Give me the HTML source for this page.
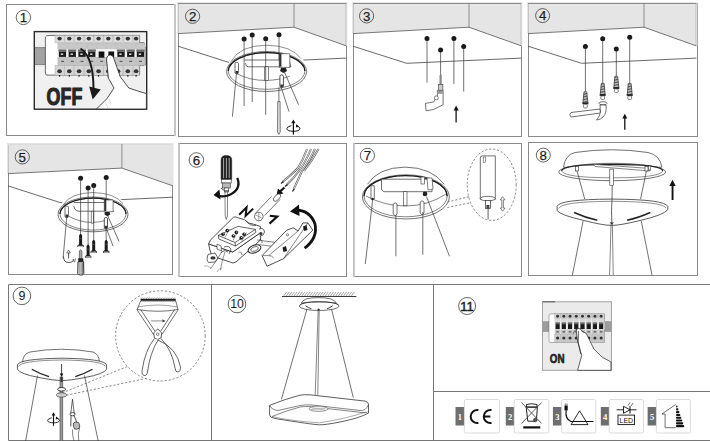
<!DOCTYPE html>
<html><head><meta charset="utf-8">
<style>
html,body{margin:0;padding:0;background:#fff;}
body{width:710px;height:441px;overflow:hidden;position:relative;}
svg{position:absolute;left:0;top:0;}
text{font-family:"Liberation Sans",sans-serif;}
</style></head><body>
<svg width="710" height="441" viewBox="0 0 710 441">

<rect x="6.5" y="4.5" width="168" height="131" fill="#fff" stroke="#8a8a8a" stroke-width="1"/>
<rect x="178.5" y="3.5" width="168" height="133" fill="none" stroke="#8a8a8a" stroke-width="1"/>
<g transform="translate(178.0,3)">
    <polygon points="-1,-1 169.4,-1 169.4,43.3 116,24.2 -1,30.6" fill="#e5e5e5"/>
    <line x1="0" y1="0.5" x2="168.4" y2="0.5" stroke="#8c8c8c" stroke-width="1"/>
    <line x1="0.5" y1="1" x2="0.5" y2="30.5" stroke="#c4c4c4" stroke-width="1"/>
    <line x1="167.9" y1="1" x2="167.9" y2="42.6" stroke="#c4c4c4" stroke-width="1"/>
    <polyline points="0,30.6 116,24.2 168.4,42.9" fill="none" stroke="#555" stroke-width="0.8"/>
    <line x1="116" y1="0" x2="116" y2="24.2" stroke="#777" stroke-width="0.8"/>
    <polyline points="0,43.2 53.6,60.3 168.4,55.1" fill="none" stroke="#444" stroke-width="0.8"/>
  </g>
<rect x="353.5" y="3.5" width="168" height="133" fill="none" stroke="#8a8a8a" stroke-width="1"/>
<g transform="translate(353.0,3)">
    <polygon points="-1,-1 169.4,-1 169.4,43.3 116,24.2 -1,30.6" fill="#e5e5e5"/>
    <line x1="0" y1="0.5" x2="168.4" y2="0.5" stroke="#8c8c8c" stroke-width="1"/>
    <line x1="0.5" y1="1" x2="0.5" y2="30.5" stroke="#c4c4c4" stroke-width="1"/>
    <line x1="167.9" y1="1" x2="167.9" y2="42.6" stroke="#c4c4c4" stroke-width="1"/>
    <polyline points="0,30.6 116,24.2 168.4,42.9" fill="none" stroke="#555" stroke-width="0.8"/>
    <line x1="116" y1="0" x2="116" y2="24.2" stroke="#777" stroke-width="0.8"/>
    <polyline points="0,43.2 53.6,60.3 168.4,55.1" fill="none" stroke="#444" stroke-width="0.8"/>
  </g>
<rect x="528.5" y="3.5" width="169" height="133" fill="none" stroke="#8a8a8a" stroke-width="1"/>
<g transform="translate(528.0,3)">
    <polygon points="-1,-1 169.4,-1 169.4,43.3 116,24.2 -1,30.6" fill="#e5e5e5"/>
    <line x1="0" y1="0.5" x2="168.4" y2="0.5" stroke="#8c8c8c" stroke-width="1"/>
    <line x1="0.5" y1="1" x2="0.5" y2="30.5" stroke="#c4c4c4" stroke-width="1"/>
    <line x1="167.9" y1="1" x2="167.9" y2="42.6" stroke="#c4c4c4" stroke-width="1"/>
    <polyline points="0,30.6 116,24.2 168.4,42.9" fill="none" stroke="#555" stroke-width="0.8"/>
    <line x1="116" y1="0" x2="116" y2="24.2" stroke="#777" stroke-width="0.8"/>
    <polyline points="0,43.2 53.6,60.3 168.4,55.1" fill="none" stroke="#444" stroke-width="0.8"/>
  </g>
<rect x="8.5" y="144.5" width="164" height="130" fill="none" stroke="#8a8a8a" stroke-width="1"/>
<g transform="translate(8,144)">
    <polygon points="-1,-1 165.6,-1 165.6,42.1 113.9,24.1 -1,29.6" fill="#e5e5e5"/>
    <line x1="0" y1="0.5" x2="164.6" y2="0.5" stroke="#dcdcdc" stroke-width="1"/>
    <line x1="0.5" y1="1" x2="0.5" y2="29.5" stroke="#c4c4c4" stroke-width="1"/>
    <polyline points="0,29.6 113.9,24.1 165,41.9" fill="none" stroke="#555" stroke-width="0.8"/>
    <line x1="113.9" y1="0" x2="113.9" y2="24.1" stroke="#777" stroke-width="0.8"/>
    <polyline points="0,41.9 52,58.5 165,53.2" fill="none" stroke="#444" stroke-width="0.8"/>
  </g>
<rect x="178.5" y="143.5" width="168" height="133" fill="none" stroke="#8a8a8a" stroke-width="1"/>
<rect x="353.5" y="143.5" width="168" height="133" fill="none" stroke="#8a8a8a" stroke-width="1"/>
<rect x="528.5" y="142.5" width="169" height="133" fill="none" stroke="#8a8a8a" stroke-width="1"/>
<polyline points="710,284.5 8.5,284.5 8.5,440.5 710,440.5" fill="none" stroke="#767676" stroke-width="1"/>
<line x1="211.5" y1="284.5" x2="211.5" y2="440.5" stroke="#767676" stroke-width="1"/>
<line x1="433.5" y1="284.5" x2="433.5" y2="440.5" stroke="#767676" stroke-width="1"/>
<line x1="433.5" y1="391.5" x2="710" y2="391.5" stroke="#767676" stroke-width="1"/>
<line x1="174.6" y1="4" x2="174.6" y2="136" stroke="#fff" stroke-width="1.2"/><line x1="175" y1="4" x2="175" y2="136" stroke="#b8b8b8" stroke-width="1.6"/>
<line x1="178.5" y1="143" x2="178.5" y2="277" stroke="#fff" stroke-width="1.2"/><line x1="179" y1="143" x2="179" y2="277" stroke="#b8b8b8" stroke-width="1.6"/>
<line x1="353.5" y1="143" x2="353.5" y2="277" stroke="#fff" stroke-width="1.2"/><line x1="353.9" y1="143" x2="353.9" y2="277" stroke="#b8b8b8" stroke-width="1.6"/>
<rect x="34.3" y="31.6" width="112.4" height="77.6" fill="#f0f0f0" stroke="#2a2a2a" stroke-width="1.4"/>
<rect x="35" y="47.3" width="111" height="17.6" fill="#a3a3a3"/>
<line x1="35" y1="47.6" x2="146" y2="47.6" stroke="#7a7a7a" stroke-width="0.8"/>
<line x1="35" y1="64.6" x2="146" y2="64.6" stroke="#7a7a7a" stroke-width="0.8"/>
<path d="M45.4,37 Q45.6,35.4 50,35.4 L139.6,35.4 L139.6,42.7 L144.1,42.7 L144.1,65.4 L139.6,65.4 L139.6,75 L47,75.1 Q45.4,75 45.4,73 Z" fill="#fff" stroke="#333" stroke-width="0.7"/>
<rect x="55.00" y="35.4" width="9.15" height="7.2" fill="#dcdcdc" stroke="#a0a0a0" stroke-width="0.4"/>
<ellipse cx="59.58" cy="38.6" rx="2.2" ry="1.9" fill="#333"/>
<rect x="55.00" y="65.4" width="9.15" height="9.8" fill="#d6d6d6" stroke="#a0a0a0" stroke-width="0.4"/>
<ellipse cx="59.58" cy="71.3" rx="2.3" ry="2" fill="#333"/>
<circle cx="59.58" cy="75.9" r="0.8" fill="#222"/>
<rect x="64.75" y="35.4" width="9.15" height="7.2" fill="#dcdcdc" stroke="#a0a0a0" stroke-width="0.4"/>
<ellipse cx="69.33" cy="38.6" rx="2.2" ry="1.9" fill="#333"/>
<rect x="64.75" y="65.4" width="9.15" height="9.8" fill="#d6d6d6" stroke="#a0a0a0" stroke-width="0.4"/>
<ellipse cx="69.33" cy="71.3" rx="2.3" ry="2" fill="#333"/>
<circle cx="69.33" cy="75.9" r="0.8" fill="#222"/>
<rect x="74.50" y="35.4" width="9.15" height="7.2" fill="#dcdcdc" stroke="#a0a0a0" stroke-width="0.4"/>
<ellipse cx="79.08" cy="38.6" rx="2.2" ry="1.9" fill="#333"/>
<rect x="74.50" y="65.4" width="9.15" height="9.8" fill="#d6d6d6" stroke="#a0a0a0" stroke-width="0.4"/>
<ellipse cx="79.08" cy="71.3" rx="2.3" ry="2" fill="#333"/>
<circle cx="79.08" cy="75.9" r="0.8" fill="#222"/>
<rect x="84.25" y="35.4" width="9.15" height="7.2" fill="#dcdcdc" stroke="#a0a0a0" stroke-width="0.4"/>
<ellipse cx="88.83" cy="38.6" rx="2.2" ry="1.9" fill="#333"/>
<rect x="84.25" y="65.4" width="9.15" height="9.8" fill="#d6d6d6" stroke="#a0a0a0" stroke-width="0.4"/>
<ellipse cx="88.83" cy="71.3" rx="2.3" ry="2" fill="#333"/>
<circle cx="88.83" cy="75.9" r="0.8" fill="#222"/>
<rect x="94.00" y="35.4" width="9.15" height="7.2" fill="#dcdcdc" stroke="#a0a0a0" stroke-width="0.4"/>
<ellipse cx="98.58" cy="38.6" rx="2.2" ry="1.9" fill="#333"/>
<rect x="94.00" y="65.4" width="9.15" height="9.8" fill="#d6d6d6" stroke="#a0a0a0" stroke-width="0.4"/>
<ellipse cx="98.58" cy="71.3" rx="2.3" ry="2" fill="#333"/>
<circle cx="98.58" cy="75.9" r="0.8" fill="#222"/>
<rect x="103.75" y="35.4" width="9.15" height="7.2" fill="#dcdcdc" stroke="#a0a0a0" stroke-width="0.4"/>
<ellipse cx="108.33" cy="38.6" rx="2.2" ry="1.9" fill="#333"/>
<rect x="103.75" y="65.4" width="9.15" height="9.8" fill="#d6d6d6" stroke="#a0a0a0" stroke-width="0.4"/>
<ellipse cx="108.33" cy="71.3" rx="2.3" ry="2" fill="#333"/>
<circle cx="108.33" cy="75.9" r="0.8" fill="#222"/>
<rect x="113.50" y="35.4" width="9.15" height="7.2" fill="#dcdcdc" stroke="#a0a0a0" stroke-width="0.4"/>
<ellipse cx="118.08" cy="38.6" rx="2.2" ry="1.9" fill="#333"/>
<rect x="113.50" y="65.4" width="9.15" height="9.8" fill="#d6d6d6" stroke="#a0a0a0" stroke-width="0.4"/>
<ellipse cx="118.08" cy="71.3" rx="2.3" ry="2" fill="#333"/>
<circle cx="118.08" cy="75.9" r="0.8" fill="#222"/>
<rect x="123.25" y="35.4" width="9.15" height="7.2" fill="#dcdcdc" stroke="#a0a0a0" stroke-width="0.4"/>
<ellipse cx="127.83" cy="38.6" rx="2.2" ry="1.9" fill="#333"/>
<rect x="123.25" y="65.4" width="9.15" height="9.8" fill="#d6d6d6" stroke="#a0a0a0" stroke-width="0.4"/>
<ellipse cx="127.83" cy="71.3" rx="2.3" ry="2" fill="#333"/>
<circle cx="127.83" cy="75.9" r="0.8" fill="#222"/>
<rect x="133.00" y="35.4" width="6.20" height="7.2" fill="#dcdcdc" stroke="#a0a0a0" stroke-width="0.4"/>
<ellipse cx="136.10" cy="38.6" rx="2.2" ry="1.9" fill="#333"/>
<rect x="133.00" y="65.4" width="6.20" height="9.8" fill="#d6d6d6" stroke="#a0a0a0" stroke-width="0.4"/>
<ellipse cx="136.10" cy="71.3" rx="2.3" ry="2" fill="#333"/>
<circle cx="136.10" cy="75.9" r="0.8" fill="#222"/>
<rect x="57.90" y="43.1" width="9.25" height="6.2" fill="#c8c8c8" stroke="#a8a8a8" stroke-width="0.4"/>
<rect x="56.90" y="49.1" width="9.75" height="8.1" fill="#f4f4f4"/>
<rect x="57.90" y="57.2" width="9.25" height="8" fill="#c4c4c4" stroke="#a8a8a8" stroke-width="0.4"/>
<rect x="61.02" y="60.8" width="3" height="1.1" fill="#555"/>
<rect x="58.38" y="49.4" width="8.30" height="2.3" fill="#6a6a6a"/>
<rect x="58.88" y="51.7" width="7.30" height="5.2" fill="#1a1a1a"/>
<rect x="60.77" y="53.4" width="2.4" height="1.6" fill="#d0d0d0"/>
<rect x="67.65" y="43.1" width="9.25" height="6.2" fill="#c8c8c8" stroke="#a8a8a8" stroke-width="0.4"/>
<rect x="66.65" y="49.1" width="9.75" height="8.1" fill="#f4f4f4"/>
<rect x="67.65" y="57.2" width="9.25" height="8" fill="#c4c4c4" stroke="#a8a8a8" stroke-width="0.4"/>
<rect x="70.78" y="60.8" width="3" height="1.1" fill="#555"/>
<rect x="68.12" y="49.4" width="8.30" height="2.3" fill="#6a6a6a"/>
<rect x="68.62" y="51.7" width="7.30" height="5.2" fill="#1a1a1a"/>
<rect x="70.53" y="53.4" width="2.4" height="1.6" fill="#d0d0d0"/>
<rect x="77.40" y="43.1" width="9.25" height="6.2" fill="#c8c8c8" stroke="#a8a8a8" stroke-width="0.4"/>
<rect x="76.40" y="49.1" width="9.75" height="8.1" fill="#f4f4f4"/>
<rect x="77.40" y="57.2" width="9.25" height="8" fill="#c4c4c4" stroke="#a8a8a8" stroke-width="0.4"/>
<rect x="80.53" y="60.8" width="3" height="1.1" fill="#555"/>
<rect x="77.88" y="49.4" width="8.30" height="2.3" fill="#6a6a6a"/>
<rect x="78.38" y="51.7" width="7.30" height="5.2" fill="#1a1a1a"/>
<rect x="80.28" y="53.4" width="2.4" height="1.6" fill="#d0d0d0"/>
<rect x="87.15" y="43.1" width="9.25" height="6.2" fill="#c8c8c8" stroke="#a8a8a8" stroke-width="0.4"/>
<rect x="86.15" y="49.1" width="9.75" height="8.1" fill="#f4f4f4"/>
<rect x="87.15" y="57.2" width="9.25" height="8" fill="#c4c4c4" stroke="#a8a8a8" stroke-width="0.4"/>
<rect x="90.28" y="60.8" width="3" height="1.1" fill="#555"/>
<rect x="87.62" y="49.4" width="8.30" height="2.3" fill="#6a6a6a"/>
<rect x="88.12" y="51.7" width="7.30" height="5.2" fill="#1a1a1a"/>
<rect x="90.03" y="53.4" width="2.4" height="1.6" fill="#d0d0d0"/>
<rect x="96.90" y="43.1" width="9.25" height="6.2" fill="#c8c8c8" stroke="#a8a8a8" stroke-width="0.4"/>
<rect x="95.90" y="49.1" width="9.75" height="8.1" fill="#f4f4f4"/>
<rect x="96.90" y="57.2" width="9.25" height="8" fill="#c4c4c4" stroke="#a8a8a8" stroke-width="0.4"/>
<rect x="100.03" y="60.8" width="3" height="1.1" fill="#555"/>
<rect x="98.67" y="51.5" width="5.70" height="6.2" fill="#111"/>
<rect x="106.65" y="43.1" width="9.25" height="6.2" fill="#c8c8c8" stroke="#a8a8a8" stroke-width="0.4"/>
<rect x="105.65" y="49.1" width="9.75" height="8.1" fill="#f4f4f4"/>
<rect x="106.65" y="57.2" width="9.25" height="8" fill="#c4c4c4" stroke="#a8a8a8" stroke-width="0.4"/>
<rect x="109.78" y="60.8" width="3" height="1.1" fill="#555"/>
<rect x="108.42" y="51.5" width="5.70" height="6.2" fill="#111"/>
<rect x="116.40" y="43.1" width="9.25" height="6.2" fill="#c8c8c8" stroke="#a8a8a8" stroke-width="0.4"/>
<rect x="115.40" y="49.1" width="9.75" height="8.1" fill="#f4f4f4"/>
<rect x="116.40" y="57.2" width="9.25" height="8" fill="#c4c4c4" stroke="#a8a8a8" stroke-width="0.4"/>
<rect x="119.53" y="60.8" width="3" height="1.1" fill="#555"/>
<rect x="116.88" y="49.4" width="8.30" height="2.3" fill="#6a6a6a"/>
<rect x="117.38" y="51.7" width="7.30" height="5.2" fill="#1a1a1a"/>
<rect x="119.28" y="53.4" width="2.4" height="1.6" fill="#d0d0d0"/>
<rect x="126.15" y="43.1" width="9.25" height="6.2" fill="#c8c8c8" stroke="#a8a8a8" stroke-width="0.4"/>
<rect x="125.15" y="49.1" width="9.75" height="8.1" fill="#f4f4f4"/>
<rect x="126.15" y="57.2" width="9.25" height="8" fill="#c4c4c4" stroke="#a8a8a8" stroke-width="0.4"/>
<rect x="129.28" y="60.8" width="3" height="1.1" fill="#555"/>
<rect x="126.62" y="49.4" width="8.30" height="2.3" fill="#6a6a6a"/>
<rect x="127.12" y="51.7" width="7.30" height="5.2" fill="#1a1a1a"/>
<rect x="129.03" y="53.4" width="2.4" height="1.6" fill="#d0d0d0"/>
<rect x="135.90" y="43.1" width="9.10" height="6.2" fill="#c8c8c8" stroke="#a8a8a8" stroke-width="0.4"/>
<rect x="134.90" y="49.1" width="9.75" height="8.1" fill="#f4f4f4"/>
<rect x="135.90" y="57.2" width="9.10" height="8" fill="#c4c4c4" stroke="#a8a8a8" stroke-width="0.4"/>
<rect x="138.95" y="60.8" width="3" height="1.1" fill="#555"/>
<rect x="136.30" y="49.4" width="8.30" height="2.3" fill="#6a6a6a"/>
<rect x="136.80" y="51.7" width="7.30" height="5.2" fill="#1a1a1a"/>
<rect x="138.70" y="53.4" width="2.4" height="1.6" fill="#d0d0d0"/>
<path d="M96.4,109 L100.6,105 L107,98.6 L114,88 L108.4,78.2 L106.6,60 Q106.8,54.6 110.5,55 Q113.5,55.6 113.8,58.5 L120.3,76.8 L128.8,88 L137.2,90.8 L146.4,93.6 L146.4,109 Z" fill="#fff" stroke="#222" stroke-width="0.8"/>
<path d="M109,99 L111,104 M104,101 Q106,103 108,108" stroke="#bbb" stroke-width="0.5" fill="none"/>
<path d="M80.5,48.5 Q93.5,57 93.5,89" stroke="#1a1a1a" stroke-width="2" fill="none"/>
<polygon points="89.2,86.4 100.8,89.4 92.7,99.4" fill="#1a1a1a"/>
<text x="0" y="0" transform="translate(46.6,105) scale(0.76,1)" font-size="23.5" font-weight="bold" fill="#262626" stroke="#262626" stroke-width="1.1">OFF</text>
<circle cx="23.4" cy="17.4" r="7.2" fill="none" stroke="#333" stroke-width="0.75"/><text x="23.4" y="22.16" text-anchor="middle" font-size="13.3" fill="#1e1e1e" stroke="#1e1e1e" stroke-width="0.25">1</text>
<circle cx="244.1" cy="39.1" r="2.5" fill="#1a1a1a"/>
<circle cx="252.2" cy="35.1" r="2.5" fill="#1a1a1a"/>
<circle cx="265.7" cy="38.8" r="2.5" fill="#1a1a1a"/>
<circle cx="279" cy="34.8" r="2.5" fill="#1a1a1a"/>
<path d="M228,66 Q232,46 266,44.7 Q300,46 305,64 Z" fill="#fff" stroke="none"/>
<path d="M231.2,61.2 Q240,45.5 266,45.2 Q292,45.5 301,58.7" fill="none" stroke="#444" stroke-width="0.6"/>
<ellipse cx="266.6" cy="71.5" rx="40" ry="20" fill="#fff" stroke="#333" stroke-width="0.7"/>
<ellipse cx="266.6" cy="71" rx="38.3" ry="18.3" fill="none" stroke="#333" stroke-width="0.6"/>
<path d="M228.3,71 A38.3,18.3 0 0 1 304.9,71" fill="none" stroke="#1a1a1a" stroke-width="1.3"/>
<path d="M236.8,73.7 Q250,80.5 266.1,80.5 Q280,80 289.8,76.2" fill="none" stroke="#333" stroke-width="0.6"/>
<path d="M244.3,60 L289,60 L291,66.8 L248,66.8 Q245.5,66.5 245.5,63" fill="#fff" stroke="#333" stroke-width="0.7"/>
<rect x="264.7" y="66.8" width="3.9" height="13.7" fill="#fff" stroke="#333" stroke-width="0.6"/>
<path d="M279.2,53.7 L289.8,53.7 L289.8,67.4 L279.2,67.4 Z" fill="#fff" stroke="#333" stroke-width="0.6"/>
<rect x="279.2" y="53.7" width="2.2" height="13" fill="#333"/>
<path d="M281,68 L286,68 L287,71 L283.5,73 L280,71 Z" fill="#222"/>
<rect x="235" y="62.4" width="3.5" height="11.3" rx="1.2" fill="#fff" stroke="#333" stroke-width="0.7"/>
<rect x="235.5" y="71" width="2.5" height="2.7" fill="#333"/>
<rect x="279.9" y="74.9" width="3.5" height="12.5" rx="1.5" fill="#fff" stroke="#222" stroke-width="0.8"/>
<rect x="280.4" y="84.5" width="2.5" height="2.9" fill="#333"/>
<line x1="244.1" y1="39.1" x2="244.1" y2="105.9" stroke="#333" stroke-width="0.7"/>
<line x1="252.2" y1="35.1" x2="252.2" y2="102.1" stroke="#333" stroke-width="0.7"/>
<line x1="265.7" y1="38.8" x2="265.7" y2="114.8" stroke="#333" stroke-width="0.7"/>
<line x1="279" y1="34.8" x2="279" y2="60" stroke="#333" stroke-width="0.7"/>
<line x1="236.4" y1="74" x2="232.4" y2="116.7" stroke="#333" stroke-width="0.7"/>
<line x1="281.4" y1="88" x2="289" y2="111.6" stroke="#333" stroke-width="0.7"/>
<line x1="284" y1="71" x2="298.5" y2="104.6" stroke="#333" stroke-width="0.7"/>
<line x1="278.9" y1="87.5" x2="278.9" y2="101.5" stroke="#333" stroke-width="0.7"/>
<path d="M277.7,101.5 L280.1,101.5 L280.3,132 L278.9,134.4 L277.5,132 Z" fill="#ddd" stroke="#333" stroke-width="0.6"/>
<g transform="translate(293.4,127) scale(0.95)"><line x1="0" y1="-6" x2="0" y2="8" stroke="#111" stroke-width="1.3"/><polygon points="-2.2,-4 0,-8 2.2,-4" fill="#111"/><path d="M-2,-1.5 Q-7.5,0 -7,2 Q-6,4.5 0,4.5 Q6,4.5 7,2 Q7,0 4,-1" fill="none" stroke="#111" stroke-width="1"/><polygon points="3,-2.8 6,-0.6 2.6,0.6" fill="#111"/></g>
<circle cx="192.6" cy="16.3" r="7.1" fill="none" stroke="#333" stroke-width="0.75"/><text x="192.6" y="21.06" text-anchor="middle" font-size="13.3" fill="#1e1e1e" stroke="#1e1e1e" stroke-width="0.25">2</text>
<line x1="427" y1="38.6" x2="427" y2="82.5" stroke="#333" stroke-width="0.7"/>
<circle cx="427" cy="38.6" r="2.5" fill="#1a1a1a"/>
<line x1="453.9" y1="38.4" x2="453.9" y2="83.9" stroke="#333" stroke-width="0.7"/>
<circle cx="453.9" cy="38.4" r="2.5" fill="#1a1a1a"/>
<line x1="463.7" y1="46.5" x2="463.7" y2="91.6" stroke="#333" stroke-width="0.7"/>
<circle cx="463.7" cy="46.5" r="2.5" fill="#1a1a1a"/>
<line x1="440.6" y1="49.9" x2="440.6" y2="75.3" stroke="#333" stroke-width="0.7"/>
<circle cx="440.6" cy="49.9" r="2.5" fill="#1a1a1a"/>
<path d="M439.9,75.3 L441.3,75.3 L441.3,84.3 L439.9,84.3 Z" fill="#aaa" stroke="#444" stroke-width="0.5"/>
<rect x="438.4" y="84.3" width="4.5" height="6.1" fill="#ccc" stroke="#333" stroke-width="0.6"/>
<path d="M437.4,90.4 L443.1,90.4 L443.1,104.7 L433.6,109.5 L426.1,110.8 L425.4,103.3 L433.6,102 L437.4,96 Z" fill="#fff" stroke="#333" stroke-width="0.7"/>
<circle cx="436.3" cy="97.9" r="2" fill="#fff" stroke="#333" stroke-width="0.6"/>
<rect x="437.6" y="90.6" width="5.3" height="3.2" fill="#999"/>
<line x1="456.1" y1="109" x2="456.1" y2="122.4" stroke="#111" stroke-width="1.3"/>
<polygon points="453.6,110.5 456.1,105.6 458.6,110.5" fill="#111"/>
<circle cx="366.6" cy="15.9" r="7.1" fill="none" stroke="#333" stroke-width="0.75"/><text x="366.6" y="20.66" text-anchor="middle" font-size="13.3" fill="#1e1e1e" stroke="#1e1e1e" stroke-width="0.25">3</text>
<line x1="585.4" y1="46.5" x2="585.4" y2="91.8" stroke="#333" stroke-width="0.7"/>
<circle cx="585.4" cy="46.5" r="2.5" fill="#1a1a1a"/>
<path d="M584.0,91.8 L586.8,91.8 L587.9,103 L582.9,103 Z" fill="#fff" stroke="#222" stroke-width="0.7"/>
<line x1="583.88" y1="93.00" x2="586.92" y2="93.60" stroke="#222" stroke-width="0.8"/>
<line x1="583.73" y1="94.60" x2="587.07" y2="95.20" stroke="#222" stroke-width="0.8"/>
<line x1="583.57" y1="96.20" x2="587.23" y2="96.80" stroke="#222" stroke-width="0.8"/>
<line x1="583.41" y1="97.80" x2="587.39" y2="98.40" stroke="#222" stroke-width="0.8"/>
<line x1="583.25" y1="99.40" x2="587.55" y2="100.00" stroke="#222" stroke-width="0.8"/>
<line x1="583.10" y1="101.00" x2="587.70" y2="101.60" stroke="#222" stroke-width="0.8"/>
<line x1="582.94" y1="102.60" x2="587.86" y2="103.20" stroke="#222" stroke-width="0.8"/>
<rect x="582.4" y="102.7" width="6" height="1.6" fill="#222"/>
<rect x="583.5" y="104.3" width="3.8" height="3.6" rx="1" fill="#fff" stroke="#333" stroke-width="0.6"/>
<line x1="602.7" y1="38.8" x2="602.7" y2="83.4" stroke="#333" stroke-width="0.7"/>
<circle cx="602.7" cy="38.8" r="2.5" fill="#1a1a1a"/>
<path d="M601.3000000000001,83.4 L604.1,83.4 L605.2,94.6 L600.2,94.6 Z" fill="#fff" stroke="#222" stroke-width="0.7"/>
<line x1="601.18" y1="84.60" x2="604.22" y2="85.20" stroke="#222" stroke-width="0.8"/>
<line x1="601.03" y1="86.20" x2="604.38" y2="86.80" stroke="#222" stroke-width="0.8"/>
<line x1="600.87" y1="87.80" x2="604.53" y2="88.40" stroke="#222" stroke-width="0.8"/>
<line x1="600.71" y1="89.40" x2="604.69" y2="90.00" stroke="#222" stroke-width="0.8"/>
<line x1="600.55" y1="91.00" x2="604.85" y2="91.60" stroke="#222" stroke-width="0.8"/>
<line x1="600.40" y1="92.60" x2="605.00" y2="93.20" stroke="#222" stroke-width="0.8"/>
<line x1="600.24" y1="94.20" x2="605.16" y2="94.80" stroke="#222" stroke-width="0.8"/>
<rect x="599.7" y="94.3" width="6" height="1.6" fill="#222"/>
<rect x="600.8000000000001" y="95.89999999999999" width="3.8" height="3.6" rx="1" fill="#fff" stroke="#333" stroke-width="0.6"/>
<line x1="616.3" y1="48.9" x2="616.3" y2="76.3" stroke="#333" stroke-width="0.7"/>
<circle cx="616.3" cy="48.9" r="2.5" fill="#1a1a1a"/>
<path d="M614.9,76.3 L617.6999999999999,76.3 L618.8,87.6 L613.8,87.6 Z" fill="#fff" stroke="#222" stroke-width="0.7"/>
<line x1="614.78" y1="77.50" x2="617.82" y2="78.10" stroke="#222" stroke-width="0.8"/>
<line x1="614.63" y1="79.10" x2="617.97" y2="79.70" stroke="#222" stroke-width="0.8"/>
<line x1="614.47" y1="80.70" x2="618.13" y2="81.30" stroke="#222" stroke-width="0.8"/>
<line x1="614.32" y1="82.30" x2="618.28" y2="82.90" stroke="#222" stroke-width="0.8"/>
<line x1="614.16" y1="83.90" x2="618.44" y2="84.50" stroke="#222" stroke-width="0.8"/>
<line x1="614.00" y1="85.50" x2="618.60" y2="86.10" stroke="#222" stroke-width="0.8"/>
<line x1="613.85" y1="87.10" x2="618.75" y2="87.70" stroke="#222" stroke-width="0.8"/>
<rect x="613.3" y="87.3" width="6" height="1.6" fill="#222"/>
<rect x="614.4" y="88.89999999999999" width="3.8" height="3.6" rx="1" fill="#fff" stroke="#333" stroke-width="0.6"/>
<line x1="629.7" y1="37.3" x2="629.7" y2="83.4" stroke="#333" stroke-width="0.7"/>
<circle cx="629.7" cy="37.3" r="2.5" fill="#1a1a1a"/>
<path d="M628.3000000000001,83.4 L631.1,83.4 L632.2,94.6 L627.2,94.6 Z" fill="#fff" stroke="#222" stroke-width="0.7"/>
<line x1="628.18" y1="84.60" x2="631.22" y2="85.20" stroke="#222" stroke-width="0.8"/>
<line x1="628.03" y1="86.20" x2="631.38" y2="86.80" stroke="#222" stroke-width="0.8"/>
<line x1="627.87" y1="87.80" x2="631.53" y2="88.40" stroke="#222" stroke-width="0.8"/>
<line x1="627.71" y1="89.40" x2="631.69" y2="90.00" stroke="#222" stroke-width="0.8"/>
<line x1="627.55" y1="91.00" x2="631.85" y2="91.60" stroke="#222" stroke-width="0.8"/>
<line x1="627.40" y1="92.60" x2="632.00" y2="93.20" stroke="#222" stroke-width="0.8"/>
<line x1="627.24" y1="94.20" x2="632.16" y2="94.80" stroke="#222" stroke-width="0.8"/>
<rect x="626.7" y="94.3" width="6" height="1.6" fill="#222"/>
<rect x="627.8000000000001" y="95.89999999999999" width="3.8" height="3.6" rx="1" fill="#fff" stroke="#333" stroke-width="0.6"/>
<path d="M571,112.5 Q568.5,114.5 571,117 L600.5,113 L600,109 Z" fill="#fff" stroke="#333" stroke-width="0.7"/>
<ellipse cx="603" cy="103.3" rx="4" ry="1.6" fill="#fff" stroke="#333" stroke-width="0.7"/>
<path d="M600,105 L606,105 Q607,113 603,117 Q600,120 596.6,120 Q600,116 600.5,112 Z" fill="#fff" stroke="#333" stroke-width="0.7"/>
<line x1="624.8" y1="117" x2="624.8" y2="129.8" stroke="#111" stroke-width="1.3"/>
<polygon points="622.3,118.5 624.8,113.8 627.3,118.5" fill="#111"/>
<circle cx="542.6" cy="15.6" r="7.0" fill="none" stroke="#333" stroke-width="0.75"/><text x="542.6" y="20.36" text-anchor="middle" font-size="13.3" fill="#1e1e1e" stroke="#1e1e1e" stroke-width="0.25">4</text>
<circle cx="80.6" cy="178.3" r="2.5" fill="#1a1a1a"/>
<circle cx="88.1" cy="188.1" r="2.5" fill="#1a1a1a"/>
<circle cx="93.7" cy="185.6" r="2.5" fill="#1a1a1a"/>
<circle cx="106.2" cy="177.6" r="2.5" fill="#1a1a1a"/>
<path d="M60,207 Q64,193 92.9,192.5 Q121,193 126,206 Z" fill="#fff"/>
<path d="M63.1,205 Q70,193 92.9,192.5 Q115,193 123,203.7" fill="none" stroke="#444" stroke-width="0.6"/>
<ellipse cx="93" cy="214.4" rx="35" ry="17.4" fill="#fff" stroke="#333" stroke-width="0.7"/>
<ellipse cx="93" cy="214.1" rx="33" ry="16" fill="none" stroke="#333" stroke-width="0.6"/>
<path d="M60,214.1 A33,16 0 0 1 126,214.1" fill="none" stroke="#1a1a1a" stroke-width="1.3"/>
<path d="M68.7,216.2 Q80,222.5 92.5,222.5 Q100,222 105,220.6" fill="none" stroke="#333" stroke-width="0.6"/>
<path d="M73.7,202.5 L104.3,202.5 L113.7,211.2 L78,211.2 Q74,210 73.7,206" fill="#fff" stroke="#333" stroke-width="0.7"/>
<rect x="91.2" y="211.2" width="2.6" height="11.9" fill="#fff" stroke="#333" stroke-width="0.6"/>
<path d="M104.3,200 L113.1,200 L113.1,211.8 L104.3,211.8 Z" fill="#fff" stroke="#333" stroke-width="0.6"/>
<rect x="104.3" y="200" width="2" height="11" fill="#333"/>
<path d="M104.8,212 L109.5,212 L110.3,214.6 L107.4,216.3 L104.5,214.6 Z" fill="#222"/>
<rect x="65" y="206.2" width="3.5" height="11.3" rx="1.2" fill="#fff" stroke="#333" stroke-width="0.7"/>
<rect x="65.5" y="214.5" width="2.5" height="3" fill="#333"/>
<rect x="104.3" y="217.5" width="3.2" height="11.2" rx="1.4" fill="#fff" stroke="#222" stroke-width="0.8"/>
<rect x="104.7" y="225.8" width="2.4" height="2.9" fill="#333"/>
<line x1="80.6" y1="178.3" x2="80.6" y2="233" stroke="#333" stroke-width="0.7"/>
<line x1="88.1" y1="188.1" x2="88.1" y2="244" stroke="#333" stroke-width="0.7"/>
<line x1="93.7" y1="185.6" x2="93.7" y2="239" stroke="#333" stroke-width="0.7"/>
<line x1="106.2" y1="177.6" x2="106.2" y2="200" stroke="#333" stroke-width="0.7"/>
<line x1="106" y1="228.7" x2="106.2" y2="239" stroke="#333" stroke-width="0.7"/>
<line x1="66.7" y1="217.5" x2="63.1" y2="258" stroke="#333" stroke-width="0.7"/>
<line x1="107.4" y1="215" x2="119" y2="241.4" stroke="#333" stroke-width="0.7"/>
<line x1="106.5" y1="228.7" x2="113.1" y2="246.2" stroke="#333" stroke-width="0.7"/>
<path d="M80.6,233.1 L82.1,235.6 L82.1,244.2 L83.8,245.6 L83.8,247.1 L77.39999999999999,247.1 L77.39999999999999,245.6 L79.1,244.2 L79.1,235.6 Z" fill="#1a1a1a"/><rect x="78.0" y="245.79999999999998" width="5.2" height="0.9" fill="#fff"/><line x1="79.1" y1="238.1" x2="82.1" y2="239.1" stroke="#888" stroke-width="0.4"/>
<path d="M88.1,243.8 L89.6,246.3 L89.6,254.89999999999998 L91.3,256.29999999999995 L91.3,257.79999999999995 L84.89999999999999,257.79999999999995 L84.89999999999999,256.29999999999995 L86.6,254.89999999999998 L86.6,246.3 Z" fill="#1a1a1a"/><rect x="85.5" y="256.5" width="5.2" height="0.9" fill="#fff"/><line x1="86.6" y1="248.8" x2="89.6" y2="249.8" stroke="#888" stroke-width="0.4"/>
<path d="M93.7,239 L95.2,241.5 L95.2,250.1 L96.9,251.5 L96.9,253.0 L90.5,253.0 L90.5,251.5 L92.2,250.1 L92.2,241.5 Z" fill="#1a1a1a"/><rect x="91.10000000000001" y="251.7" width="5.2" height="0.9" fill="#fff"/><line x1="92.2" y1="244" x2="95.2" y2="245" stroke="#888" stroke-width="0.4"/>
<path d="M106.2,239 L107.7,241.5 L107.7,250.1 L109.4,251.5 L109.4,253.0 L103.0,253.0 L103.0,251.5 L104.7,250.1 L104.7,241.5 Z" fill="#1a1a1a"/><rect x="103.60000000000001" y="251.7" width="5.2" height="0.9" fill="#fff"/><line x1="104.7" y1="244" x2="107.7" y2="245" stroke="#888" stroke-width="0.4"/>
<path d="M79.3,251 Q80.6,248.6 81.9,251 L81.9,258.5 L79.3,258.5 Z" fill="#aaa" stroke="#333" stroke-width="0.6"/>
<rect x="78.2" y="258.3" width="5.2" height="3.6" fill="#222"/>
<path d="M78,261.9 L83.6,261.9 L83.8,273.5 Q83.8,275 80.8,275 Q77.8,275 77.8,273.5 Z" fill="#fff" stroke="#222" stroke-width="1"/>
<rect x="79.4" y="263" width="1.1" height="11" fill="#777"/>
<rect x="81.6" y="263" width="1" height="11" fill="#333"/>
<path d="M68.6,258.5 L68.6,251.5" stroke="#222" stroke-width="0.8"/>
<path d="M66.8,253 L68.6,250 L70.4,253 Z" fill="#fff" stroke="#222" stroke-width="0.6"/>
<path d="M63.5,256.5 Q63.5,262.5 68.6,262.5 Q73.5,262.5 73.8,259" fill="none" stroke="#222" stroke-width="0.8"/>
<path d="M72.3,259.8 L74.6,262 L75.5,258.6" fill="none" stroke="#222" stroke-width="0.6"/>
<circle cx="22.3" cy="156.9" r="7.1" fill="none" stroke="#333" stroke-width="0.75"/><text x="22.3" y="161.66" text-anchor="middle" font-size="13.3" fill="#1e1e1e" stroke="#1e1e1e" stroke-width="0.25">5</text>
<path d="M221.1,160 Q221.1,155.6 226.4,155.6 Q231.7,155.6 231.7,160 L231.7,179.4 L221.1,179.4 Z" fill="#1e1e1e" stroke="#222" stroke-width="0.6"/>
<rect x="223.1" y="158" width="1" height="20" fill="#aaa"/>
<rect x="225.9" y="158" width="1" height="20" fill="#aaa"/>
<rect x="228.7" y="158" width="1" height="20" fill="#aaa"/>
<rect x="221.6" y="179.4" width="9.6" height="3.6" fill="#fff" stroke="#333" stroke-width="0.6"/>
<rect x="222.5" y="183" width="7.8" height="5" fill="#bbb" stroke="#333" stroke-width="0.6"/>
<rect x="224.3" y="188" width="4" height="4" fill="#fff" stroke="#333" stroke-width="0.6"/>
<path d="M225,192 L227.6,192 L227.4,216 L226.3,219.5 L225.2,216 Z" fill="#fff" stroke="#333" stroke-width="0.6"/>
<path d="M237.3,177.8 Q242,190 228,195.5 Q220,197.5 217,195" fill="none" stroke="#111" stroke-width="2.2"/>
<polygon points="213.5,195 219.5,189.5 220.5,199.5" fill="#111"/>
<path d="M221,188 Q224,192 229,191" fill="none" stroke="#111" stroke-width="0.8"/>
<path d="M307,149 Q303,160 298,168 Q290,176 282.5,182" fill="none" stroke="#555" stroke-width="1.9"/>
<path d="M311,149 Q306,161 300,169.5 Q293,179 286.5,185" fill="none" stroke="#555" stroke-width="1.9"/>
<path d="M315,149 Q309,162 302,171 Q298,180 293.5,189.5" fill="none" stroke="#555" stroke-width="1.9"/>
<path d="M318.5,149 Q312,161 304,171" fill="none" stroke="#555" stroke-width="1.9"/>
<path d="M307,149 Q303,160 298,168 Q290,176 282.5,182" fill="none" stroke="#fff" stroke-width="0.8"/>
<path d="M311,149 Q306,161 300,169.5 Q293,179 286.5,185" fill="none" stroke="#fff" stroke-width="0.8"/>
<path d="M315,149 Q309,162 302,171 Q298,180 293.5,189.5" fill="none" stroke="#fff" stroke-width="0.8"/>
<path d="M318.5,149 Q312,161 304,171" fill="none" stroke="#fff" stroke-width="0.8"/>
<path d="M283.5,181.5 L281,183.5 M287.5,184.5 L285,186.5 M294,189 L292.5,191.5" stroke="#222" stroke-width="1.3"/>
<line x1="284.5" y1="187.5" x2="280" y2="191.5" stroke="#111" stroke-width="2.2"/>
<polygon points="276.5,195 278,188.5 283.5,193.5" fill="#111"/>
<path d="M269.5,199 L277.7,199 Q281,199.5 279,202 L264.6,215.5 L254.8,213.9 Z" fill="#fff" stroke="none"/>
<path d="M271.5,196.5 L254.8,213.9 M280,199.5 L264.6,215.5" stroke="#333" stroke-width="0.7"/>
<ellipse cx="277" cy="197.6" rx="4.6" ry="2.4" transform="rotate(-45 277 197.6)" fill="#fff" stroke="#333" stroke-width="0.7"/>
<circle cx="258.8" cy="216.5" r="4.3" fill="#fff" stroke="#333" stroke-width="0.7"/>
<path d="M255.8,215 L261.8,218 M258.8,212.8 L258.8,220.2" stroke="#444" stroke-width="0.5"/>
<polyline points="239.2,214.8 246.6,207.2 245.6,215.9 253.2,208.6" fill="none" stroke="#111" stroke-width="2" stroke-linejoin="miter"/>
<polyline points="269.8,215.7 277.3,216.6 269.5,223.6" fill="none" stroke="#111" stroke-width="2.1" stroke-linejoin="miter"/>
<path d="M208.6,243.9 L232.7,252 L260.9,232.4 L260.5,240 L236,262 L233,263 L212,256 Q209.5,250 208.6,243.9 Z" fill="#fff" stroke="#222" stroke-width="0.8"/>
<path d="M233.5,217.2 Q235.5,216.5 237.5,217.6 L244.7,219.8 Q248,224 253,224 L260.3,226.4 L260.9,232.4 L232.7,252 L208.6,243.9 L210.5,240 Z" fill="#fff" stroke="#222" stroke-width="0.8"/>
<path d="M246,220.5 Q250,226.5 256,225.3" fill="none" stroke="#222" stroke-width="0.7"/>
<path d="M218.2,235.4 L238,226.4 L255.5,229.4 L235,242.5 Z" fill="#fff" stroke="#222" stroke-width="0.7"/>
<path d="M218.2,235.4 L218.8,239 L235.5,246 L235,242.5 M235.5,246 L255.8,232.5 L255.5,229.4" fill="none" stroke="#222" stroke-width="0.7"/>
<path d="M229.5,229 L224.5,238 M238,231 L233,240.5 M246.5,232.5 L241.5,241.5" stroke="#666" stroke-width="0.6"/>
<circle cx="227.2" cy="230.6" r="1.8" fill="#1a1a1a"/>
<circle cx="227.6" cy="230.2" r="0.55" fill="#fff"/>
<circle cx="223" cy="234.2" r="1.8" fill="#1a1a1a"/>
<circle cx="223.4" cy="233.79999999999998" r="0.55" fill="#fff"/>
<circle cx="236.3" cy="232.4" r="1.8" fill="#1a1a1a"/>
<circle cx="236.70000000000002" cy="232.0" r="0.55" fill="#fff"/>
<circle cx="233.3" cy="236" r="1.8" fill="#1a1a1a"/>
<circle cx="233.70000000000002" cy="235.6" r="0.55" fill="#fff"/>
<circle cx="244.1" cy="234.2" r="1.8" fill="#1a1a1a"/>
<circle cx="244.5" cy="233.79999999999998" r="0.55" fill="#fff"/>
<circle cx="241.1" cy="237.9" r="1.8" fill="#1a1a1a"/>
<circle cx="241.5" cy="237.5" r="0.55" fill="#fff"/>
<path d="M217,244 L221,246 L221.5,251 L217,249 Z" fill="#fff" stroke="#222" stroke-width="0.6"/>
<path d="M224,247 Q230,245 231,250 L229,254" fill="none" stroke="#222" stroke-width="0.7"/>
<path d="M221,253 Q224,249 228,252" fill="none" stroke="#222" stroke-width="0.8"/>
<path d="M259,229 Q264,227 264.5,232 Q264,236 259.5,236" fill="#fff" stroke="#222" stroke-width="0.7"/>
<circle cx="260.8" cy="233.5" r="1.6" fill="#333"/>
<path d="M259,240 Q262.5,239 262,243" fill="none" stroke="#222" stroke-width="0.6"/>
<path d="M238.5,253 Q241,250 242,255" fill="none" stroke="#222" stroke-width="0.6"/>
<path d="M208,254.5 L215,253 L218,258 L215,262 L208.5,262.5 Q206,260 208,254.5 Z" fill="#fff" stroke="#222" stroke-width="0.7"/>
<ellipse cx="213" cy="257.9" rx="2.6" ry="1.6" fill="#333"/>
<path d="M222,251.3 Q216,262 210.3,269 M225,252 Q221,264 220.6,270.4" fill="none" stroke="#444" stroke-width="0.6"/>
<path d="M204,266 Q208,265 211,268 M217,272 Q219,268 222,268" fill="none" stroke="#666" stroke-width="0.5"/>
<path d="M257.2,240 L276,242.5 M258,244.5 L274,246.5" stroke="#333" stroke-width="0.6"/>
<ellipse cx="254.5" cy="249" rx="6.6" ry="3.8" transform="rotate(-20 254.5 249)" fill="#fff" stroke="#222" stroke-width="1"/>
<ellipse cx="254.5" cy="249" rx="4" ry="2.1" transform="rotate(-20 254.5 249)" fill="none" stroke="#222" stroke-width="0.6"/>
<path d="M262.1,255.6 L286.7,230.2 L293.2,227.8 L298.1,231 L303,222.9 L307.9,222.9 L312.8,230.2 L283.4,258.8 L267,266.2 Z" fill="#fff" stroke="#222" stroke-width="0.8"/>
<path d="M263,255.6 L268.7,255.6 Q272,255.5 273.6,258 M268.7,255.6 L298.1,231 M283.4,258.8 L307.9,222.9" fill="none" stroke="#333" stroke-width="0.6"/>
<path d="M282.5,247.5 L286,246 L287,251 L283.5,252 Z" fill="#1a1a1a"/>
<path d="M303,226.5 L306.5,225 L307.5,230 L304,231 Z" fill="#1a1a1a"/>
<circle cx="287.5" cy="234.8" r="1.1" fill="none" stroke="#333" stroke-width="0.6"/>
<path d="M295,210 Q310,210 315,224 Q318,238 304.6,248.2" fill="none" stroke="#111" stroke-width="2.8"/>
<polygon points="290,211.5 299,204.5 299.5,216" fill="#111"/>
<circle cx="196.4" cy="160" r="7.3" fill="none" stroke="#333" stroke-width="0.75"/><text x="196.4" y="164.76" text-anchor="middle" font-size="13.3" fill="#1e1e1e" stroke="#1e1e1e" stroke-width="0.25">6</text>
<path d="M365,190 Q370,168 405.1,167.1 Q440,168 447,190 Z" fill="#fff"/>
<path d="M367.5,184.3 Q378,167.5 405.1,167.1 Q432,167.5 444.2,184.3" fill="none" stroke="#333" stroke-width="0.7"/>
<ellipse cx="405.9" cy="196.9" rx="43.5" ry="22.1" fill="#fff" stroke="#333" stroke-width="0.7"/>
<ellipse cx="405.6" cy="196.2" rx="41.6" ry="20.6" fill="none" stroke="#333" stroke-width="0.6"/>
<path d="M364,196.2 A41.6,20.6 0 0 1 447.2,196.2" fill="none" stroke="#1a1a1a" stroke-width="1.3"/>
<path d="M366,196 Q385,206 405,206 Q428,206 446,194" fill="none" stroke="#333" stroke-width="0.6"/>
<path d="M381.5,179.2 L431.7,179.2 L432,191.7 L384,191.7 L381.5,189.5 Z" fill="#fff" stroke="#333" stroke-width="0.7"/>
<rect x="403.6" y="191.7" width="3.4" height="14" fill="#fff" stroke="#333" stroke-width="0.6"/>
<rect x="421" y="177" width="3.6" height="7" fill="#fff" stroke="#333" stroke-width="0.6"/>
<path d="M427,178 L432,178 L433,189 L428,190 Z" fill="#fff" stroke="#333" stroke-width="0.6"/>
<circle cx="425" cy="193.9" r="2.3" fill="#222"/>
<rect x="371" y="185.8" width="3.2" height="13.3" fill="#fff" stroke="#333" stroke-width="0.7"/>
<circle cx="372.6" cy="199" r="1.2" fill="#222"/>
<path d="M393.2,204 Q395.1,201.6 397,204 L397,214 L395.1,215.8 L393.2,214 Z" fill="#fff" stroke="#333" stroke-width="0.7"/>
<path d="M420.2,202 Q422.1,199.6 424,202 L424,213 L422.1,215 L420.2,213 Z" fill="#fff" stroke="#333" stroke-width="0.7"/>
<line x1="372.7" y1="199.7" x2="365.3" y2="264" stroke="#333" stroke-width="0.7"/>
<line x1="395.9" y1="215" x2="395.9" y2="256.3" stroke="#333" stroke-width="0.7"/>
<line x1="422.8" y1="212" x2="422.8" y2="254.8" stroke="#333" stroke-width="0.7"/>
<line x1="426.5" y1="196.6" x2="449.5" y2="256.3" stroke="#333" stroke-width="0.7"/>
<ellipse cx="491.7" cy="184.7" rx="24.5" ry="35.7" fill="#fff" stroke="#555" stroke-width="0.7" stroke-dasharray="2.2,1.8"/>
<path d="M469,196.7 L447.3,202.1 M469,203 L447,207.6" stroke="#555" stroke-width="0.7" stroke-dasharray="2.2,1.8"/>
<path d="M480.3,158 Q480.3,155.9 482.5,155.9 L495.3,155.9 L495.3,199.4 L480.3,199.4 Z" fill="#fff" stroke="#333" stroke-width="0.7"/>
<rect x="483.2" y="157" width="2.3" height="5.2" fill="#fff" stroke="#333" stroke-width="0.5"/>
<ellipse cx="487.8" cy="198.6" rx="7.5" ry="2.3" fill="#fff" stroke="#333" stroke-width="0.7"/>
<rect x="485.4" y="200.5" width="5" height="8" fill="#fff" stroke="#333" stroke-width="0.7"/>
<rect x="486.4" y="205" width="3" height="3.5" fill="#444"/>
<line x1="488.1" y1="208.5" x2="488.1" y2="219.4" stroke="#333" stroke-width="0.8"/>
<path d="M502.6,196.7 L505,199.8 L503.4,199.8 L503.4,208.1 L505,208.1 L502.6,211.2 L500.2,208.1 L501.8,208.1 L501.8,199.8 L500.2,199.8 Z" fill="#fff" stroke="#333" stroke-width="0.6"/>
<circle cx="367.4" cy="155.4" r="7.1" fill="none" stroke="#333" stroke-width="0.75"/><text x="367.4" y="160.16" text-anchor="middle" font-size="13.3" fill="#1e1e1e" stroke="#1e1e1e" stroke-width="0.25">7</text>
<path d="M563.5,167.2 Q565,155 575,152.5 Q611.7,147 648,152.5 Q660,155 661.9,167.2 Z" fill="#fff" stroke="#333" stroke-width="0.7"/>
<ellipse cx="612.2" cy="172" rx="53.5" ry="8.7" fill="#fff" stroke="#333" stroke-width="0.7"/>
<path d="M561.6,171 Q562,164.3 612.2,164.3 Q662.8,164.3 662.8,171" fill="none" stroke="#222" stroke-width="1.2"/>
<path d="M561.6,171 Q565,177.8 612.2,177.8 Q660,177.8 662.8,171" fill="none" stroke="#444" stroke-width="0.6"/>
<path d="M593.4,164.3 L650.3,168.5 L650,171 L595,166.5 Z" fill="#fff" stroke="#333" stroke-width="0.6"/>
<rect x="609.8" y="169.1" width="3.8" height="16.4" fill="#fff" stroke="#333" stroke-width="0.6"/>
<rect x="575.5" y="166.5" width="3" height="4.5" fill="#fff" stroke="#222" stroke-width="0.6"/>
<rect x="645" y="166.5" width="3" height="4.5" fill="#fff" stroke="#222" stroke-width="0.6"/>
<rect x="648.5" y="166" width="2" height="4" fill="#fff" stroke="#222" stroke-width="0.5"/>
<line x1="577" y1="171" x2="584.7" y2="199" stroke="#333" stroke-width="0.7"/>
<line x1="646.4" y1="171" x2="640.6" y2="199" stroke="#333" stroke-width="0.7"/>
<path d="M557.1,206.4 Q559,199.4 611.7,199.1 Q665,199.4 667.8,206.4 L667.8,209.6 Q664,215 640,220.5 Q620,225.4 611.7,225.4 Q603,225.4 584,220.5 Q560,215 557.1,210.6 Z" fill="#fff" stroke="#333" stroke-width="0.8"/>
<path d="M558.8,208.5 Q561,201.6 611.7,201.3 Q663,201.6 666,208" fill="none" stroke="#444" stroke-width="0.6"/>
<path d="M574.1,212.5 Q586,218 597.3,220.2" fill="none" stroke="#222" stroke-width="1.4"/>
<path d="M627.1,220.2 Q638,218 650.3,212.5" fill="none" stroke="#222" stroke-width="1.4"/>
<path d="M612.2,185.5 L612,200 Q611,210 611.9,223" fill="none" stroke="#222" stroke-width="0.7"/>
<path d="M609.5,222.5 L614,222.5 L611.7,224.5 Z" fill="#222"/>
<line x1="583.1" y1="221.1" x2="572.4" y2="275" stroke="#333" stroke-width="0.7"/>
<line x1="641.3" y1="221.1" x2="652" y2="275" stroke="#333" stroke-width="0.7"/>
<line x1="611" y1="224" x2="609.6" y2="275" stroke="#333" stroke-width="0.6"/>
<line x1="612.4" y1="224" x2="613.2" y2="275" stroke="#333" stroke-width="0.6"/>
<rect x="671.6" y="184" width="1.9" height="16" fill="#111"/>
<polygon points="669.3,186 672.5,179.7 675.7,186" fill="#111"/>
<circle cx="543.3" cy="155.1" r="7.0" fill="none" stroke="#333" stroke-width="0.75"/><text x="543.3" y="159.86" text-anchor="middle" font-size="13.3" fill="#1e1e1e" stroke="#1e1e1e" stroke-width="0.25">8</text>
<path d="M22.6,361.8 Q23,354 30,352 Q61.6,346.5 93,352 Q99,354 99.4,361.8 Z" fill="#fff" stroke="#333" stroke-width="0.7"/>
<path d="M17.4,365 Q19,358.8 62,358.2 Q105,358.8 106.6,365 L106.6,369.2 Q104,374 85,377.5 Q70,380.5 62,380.5 Q54,380.5 39,377.5 Q20,374 17.4,369.2 Z" fill="#fff" stroke="#333" stroke-width="0.8"/>
<path d="M18.5,366.5 Q21,360.5 62,360 Q103,360.5 105.5,366.5" fill="none" stroke="#444" stroke-width="0.6"/>
<path d="M31.8,369.3 Q40,374 49,376.7" fill="none" stroke="#222" stroke-width="1.3"/>
<path d="M75.3,376.7 Q84,374 92.5,369.3" fill="none" stroke="#222" stroke-width="1.3"/>
<line x1="37.5" y1="375.5" x2="25.6" y2="441" stroke="#333" stroke-width="0.7"/>
<line x1="84.5" y1="375.5" x2="98.2" y2="441" stroke="#333" stroke-width="0.7"/>
<line x1="61.6" y1="364" x2="61.6" y2="375" stroke="#111" stroke-width="0.8"/>
<polygon points="59.8,373.5 63.4,373.5 61.6,377" fill="#111"/>
<rect x="60" y="377" width="2.8" height="64" fill="#999" stroke="#444" stroke-width="0.6"/>
<rect x="60.6" y="377" width="2" height="5" fill="#333"/>
<ellipse cx="61.6" cy="389.3" rx="4" ry="1.8" fill="#fff" stroke="#222" stroke-width="0.9"/>
<path d="M56.5,394.5 Q56.5,392.8 61.6,392.8 Q66.7,392.8 66.7,394.5 L66.7,395.5 Q66.7,397.2 61.6,397.2 Q56.5,397.2 56.5,395.5 Z" fill="#ccc" stroke="#333" stroke-width="0.6"/>
<g transform="translate(53.5,419) scale(0.85)"><line x1="0" y1="-6" x2="0" y2="8" stroke="#111" stroke-width="1.3"/><polygon points="-2.2,-4 0,-8 2.2,-4" fill="#111"/><path d="M-2,-1.5 Q-7.5,0 -7,2 Q-6,4.5 0,4.5 Q6,4.5 7,2 Q7,0 4,-1" fill="none" stroke="#111" stroke-width="1"/><polygon points="3,-2.8 6,-0.6 2.6,0.6" fill="#111"/></g>
<path d="M72.5,399.2 L70.8,413 L72.5,414 L74.2,413 Z" fill="#fff" stroke="#222" stroke-width="0.7"/>
<ellipse cx="72.5" cy="414.2" rx="2.6" ry="1.6" fill="#fff" stroke="#222" stroke-width="0.8"/>
<path d="M71,415.5 L70.8,426.3 M74,415.5 L76.7,422" fill="none" stroke="#222" stroke-width="0.8"/>
<path d="M73.5,423 Q75.5,421 78.5,422.5 Q80.3,425 79.5,428 Q77,430 74.5,429 Q72.8,426 73.5,423 Z" fill="#bbb" stroke="#222" stroke-width="0.7"/>
<path d="M72.5,429.5 Q72,435 74,441 M79.5,428 Q77.5,433 78.8,441" fill="none" stroke="#333" stroke-width="0.6"/>
<path d="M127.3,366.6 L62.7,392.7 M146.8,378.3 L65,395.5" stroke="#555" stroke-width="0.7" stroke-dasharray="2.2,1.8"/>
<ellipse cx="160.4" cy="335.9" rx="44.8" ry="45.1" fill="#fff" stroke="#555" stroke-width="0.7" stroke-dasharray="2.2,1.8"/>
<rect x="140.6" y="298.8" width="35.2" height="2" fill="#222"/>
<line x1="141.0" y1="298.8" x2="142.2" y2="297.6" stroke="#333" stroke-width="0.6"/>
<line x1="143.5" y1="298.8" x2="144.7" y2="297.6" stroke="#333" stroke-width="0.6"/>
<line x1="146.0" y1="298.8" x2="147.2" y2="297.6" stroke="#333" stroke-width="0.6"/>
<line x1="148.5" y1="298.8" x2="149.7" y2="297.6" stroke="#333" stroke-width="0.6"/>
<line x1="151.0" y1="298.8" x2="152.2" y2="297.6" stroke="#333" stroke-width="0.6"/>
<line x1="153.5" y1="298.8" x2="154.7" y2="297.6" stroke="#333" stroke-width="0.6"/>
<line x1="156.0" y1="298.8" x2="157.2" y2="297.6" stroke="#333" stroke-width="0.6"/>
<line x1="158.5" y1="298.8" x2="159.7" y2="297.6" stroke="#333" stroke-width="0.6"/>
<line x1="161.0" y1="298.8" x2="162.2" y2="297.6" stroke="#333" stroke-width="0.6"/>
<line x1="163.5" y1="298.8" x2="164.7" y2="297.6" stroke="#333" stroke-width="0.6"/>
<line x1="166.0" y1="298.8" x2="167.2" y2="297.6" stroke="#333" stroke-width="0.6"/>
<line x1="168.5" y1="298.8" x2="169.7" y2="297.6" stroke="#333" stroke-width="0.6"/>
<line x1="171.0" y1="298.8" x2="172.2" y2="297.6" stroke="#333" stroke-width="0.6"/>
<line x1="173.5" y1="298.8" x2="174.7" y2="297.6" stroke="#333" stroke-width="0.6"/>
<path d="M140.6,301 L175.8,301 L178,309.5 Q158,313 137.2,309.5 Z" fill="#fff" stroke="#333" stroke-width="0.7"/>
<path d="M137.5,307 Q158,303 177.5,307" fill="none" stroke="#444" stroke-width="0.5"/>
<path d="M136.8,309.5 L153.5,334.5 M140.6,309.5 L154.8,331 M178.3,309.5 L162,334.5 M174.6,309.5 L160.8,331" stroke="#333" stroke-width="0.7"/>
<path d="M157.7,328.8 L161.7,333 L161,338 L157.7,339.5 L154.4,338 L153.7,333 Z" fill="#fff" stroke="#333" stroke-width="0.8"/>
<circle cx="157.7" cy="334.2" r="1.3" fill="none" stroke="#333" stroke-width="0.6"/>
<path d="M154.5,338.5 Q145,350 142,371 Q141.5,375 144,375.5 Q147,376 147.5,372 Q150,353 158,340" fill="#fff" stroke="#333" stroke-width="0.75"/>
<path d="M161,338.5 Q172,350 175,368 Q175.5,372.5 178,372 Q181,371.5 180.5,367 Q177,348 158,340" fill="#fff" stroke="#333" stroke-width="0.75"/>
<path d="M150.8,320.9 L164.4,320.9" stroke="#444" stroke-width="0.6"/>
<polygon points="162.5,319.3 165.5,320.9 162.5,322.5" fill="#444"/>
<circle cx="21.9" cy="295.9" r="8.8" fill="none" stroke="#333" stroke-width="0.75"/><text x="21.9" y="300.38" text-anchor="middle" font-size="12.5" fill="#1e1e1e" stroke="#1e1e1e" stroke-width="0.05">9</text>
<line x1="282" y1="296.5" x2="356.4" y2="296.5" stroke="#222" stroke-width="0.9"/>
<line x1="283.50" y1="296.3" x2="286.70" y2="291.9" stroke="#555" stroke-width="0.55"/>
<line x1="286.10" y1="296.3" x2="289.30" y2="291.9" stroke="#555" stroke-width="0.55"/>
<line x1="288.70" y1="296.3" x2="291.90" y2="291.9" stroke="#555" stroke-width="0.55"/>
<line x1="291.30" y1="296.3" x2="294.50" y2="291.9" stroke="#555" stroke-width="0.55"/>
<line x1="293.90" y1="296.3" x2="297.10" y2="291.9" stroke="#555" stroke-width="0.55"/>
<line x1="296.50" y1="296.3" x2="299.70" y2="291.9" stroke="#555" stroke-width="0.55"/>
<line x1="299.10" y1="296.3" x2="302.30" y2="291.9" stroke="#555" stroke-width="0.55"/>
<line x1="301.70" y1="296.3" x2="304.90" y2="291.9" stroke="#555" stroke-width="0.55"/>
<line x1="304.30" y1="296.3" x2="307.50" y2="291.9" stroke="#555" stroke-width="0.55"/>
<line x1="306.90" y1="296.3" x2="310.10" y2="291.9" stroke="#555" stroke-width="0.55"/>
<line x1="309.50" y1="296.3" x2="312.70" y2="291.9" stroke="#555" stroke-width="0.55"/>
<line x1="312.10" y1="296.3" x2="315.30" y2="291.9" stroke="#555" stroke-width="0.55"/>
<line x1="314.70" y1="296.3" x2="317.90" y2="291.9" stroke="#555" stroke-width="0.55"/>
<line x1="317.30" y1="296.3" x2="320.50" y2="291.9" stroke="#555" stroke-width="0.55"/>
<line x1="319.90" y1="296.3" x2="323.10" y2="291.9" stroke="#555" stroke-width="0.55"/>
<line x1="322.50" y1="296.3" x2="325.70" y2="291.9" stroke="#555" stroke-width="0.55"/>
<line x1="325.10" y1="296.3" x2="328.30" y2="291.9" stroke="#555" stroke-width="0.55"/>
<line x1="327.70" y1="296.3" x2="330.90" y2="291.9" stroke="#555" stroke-width="0.55"/>
<line x1="330.30" y1="296.3" x2="333.50" y2="291.9" stroke="#555" stroke-width="0.55"/>
<line x1="332.90" y1="296.3" x2="336.10" y2="291.9" stroke="#555" stroke-width="0.55"/>
<line x1="335.50" y1="296.3" x2="338.70" y2="291.9" stroke="#555" stroke-width="0.55"/>
<line x1="338.10" y1="296.3" x2="341.30" y2="291.9" stroke="#555" stroke-width="0.55"/>
<line x1="340.70" y1="296.3" x2="343.90" y2="291.9" stroke="#555" stroke-width="0.55"/>
<line x1="343.30" y1="296.3" x2="346.50" y2="291.9" stroke="#555" stroke-width="0.55"/>
<line x1="345.90" y1="296.3" x2="349.10" y2="291.9" stroke="#555" stroke-width="0.55"/>
<line x1="348.50" y1="296.3" x2="351.70" y2="291.9" stroke="#555" stroke-width="0.55"/>
<line x1="351.10" y1="296.3" x2="354.30" y2="291.9" stroke="#555" stroke-width="0.55"/>
<path d="M301.4,303 Q303,297.6 318.5,297.6 Q334,297.6 336.3,303 Z" fill="#fff" stroke="#333" stroke-width="0.7"/>
<ellipse cx="319.2" cy="306" rx="20" ry="4.5" fill="#fff" stroke="#333" stroke-width="0.7"/>
<path d="M300,305 Q302,302 319.2,302 Q336,302 338.5,305" fill="none" stroke="#333" stroke-width="0.8"/>
<path d="M305.6,305.8 Q308,307.5 311.5,308.9 M327,308.9 Q330,307.5 332.8,305.8" fill="none" stroke="#222" stroke-width="0.9"/>
<line x1="307" y1="308.9" x2="281.4" y2="399.4" stroke="#333" stroke-width="0.7"/>
<line x1="331.5" y1="308.9" x2="353.3" y2="397.7" stroke="#333" stroke-width="0.7"/>
<line x1="318.2" y1="309" x2="315.2" y2="394.9" stroke="#333" stroke-width="0.6"/>
<line x1="319.2" y1="309" x2="317.8" y2="394.9" stroke="#333" stroke-width="0.6"/>
<circle cx="318.6" cy="309.5" r="1" fill="#333"/>
<path d="M269.6,405.4 Q285,399 300,395.2 Q304,394.5 310,394.8 L365.1,401.1 Q368.5,402 368.5,404.5 L368.5,413 Q360,418 340,422 Q325,425 319.5,424.8 Q312,424.5 275,418.5 Q269.6,417.5 269.6,415 Z" fill="#fff" stroke="#333" stroke-width="0.8"/>
<path d="M269.6,405.4 Q272,410 278,410.5 L300,405.5 Q305,404.5 312,405 L360,410.5 Q366,411 368.5,404.5" fill="none" stroke="#333" stroke-width="0.6"/>
<path d="M272,416.5 Q285,411 300,407 Q304,406.3 310,406.6 L362,412.5 Q366,413 367.6,412" fill="none" stroke="#333" stroke-width="0.6"/>
<path d="M272,416.5 Q290,421 319.5,422.8 Q345,419 366,412" fill="none" stroke="#555" stroke-width="0.5"/>
<ellipse cx="318.5" cy="408.8" rx="9.5" ry="2.6" fill="#f2f2f2" stroke="#555" stroke-width="0.6"/>
<path d="M311,409.5 L326,408 M312,408 L325,410" stroke="#888" stroke-width="0.5"/>
<circle cx="237" cy="304" r="8.8" fill="none" stroke="#333" stroke-width="0.75"/><text x="237" y="308.40" text-anchor="middle" font-size="12.3" fill="#1e1e1e" stroke="#1e1e1e" stroke-width="0.05">10</text>
<rect x="542.5" y="301.8" width="69" height="68.5" fill="#ebebeb" stroke="#9a9a9a" stroke-width="0.9"/>
<line x1="542.5" y1="301.8" x2="555" y2="301.8" stroke="#555" stroke-width="1"/>
<rect x="543" y="321.2" width="68" height="10.7" fill="#9c9c9c"/>
<path d="M549,315.5 Q549,313.9 551,313.9 L604.5,313.9 L604.5,342.5 L551,342.5 Q549,342.5 549,341 Z" fill="#fff" stroke="#666" stroke-width="0.5"/>
<rect x="554.70" y="313.6" width="5.82" height="5.2" fill="#cfcfcf" stroke="#999" stroke-width="0.3"/>
<circle cx="557.61" cy="316.2" r="1.45" fill="#333"/>
<rect x="554.70" y="318.8" width="5.82" height="3.3" fill="#d8d8d8"/>
<rect x="554.70" y="322.1" width="6.22" height="7.3" fill="#f2f2f2"/>
<rect x="555.30" y="322.3" width="4.62" height="1.8" fill="#666"/>
<rect x="555.50" y="324.1" width="4.22" height="5" fill="#1a1a1a"/>
<rect x="554.70" y="329.4" width="5.82" height="4.9" fill="#c8c8c8"/>
<rect x="556.31" y="331.3" width="2.6" height="1.1" fill="#444"/>
<rect x="554.70" y="334.3" width="5.82" height="7.4" fill="#cacaca" stroke="#999" stroke-width="0.3"/>
<circle cx="557.61" cy="338" r="1.6" fill="#333"/>
<rect x="560.92" y="313.6" width="5.82" height="5.2" fill="#cfcfcf" stroke="#999" stroke-width="0.3"/>
<circle cx="563.83" cy="316.2" r="1.45" fill="#333"/>
<rect x="560.92" y="318.8" width="5.82" height="3.3" fill="#d8d8d8"/>
<rect x="560.92" y="322.1" width="6.22" height="7.3" fill="#f2f2f2"/>
<rect x="561.52" y="322.3" width="4.62" height="1.8" fill="#666"/>
<rect x="561.72" y="324.1" width="4.22" height="5" fill="#1a1a1a"/>
<rect x="560.92" y="329.4" width="5.82" height="4.9" fill="#c8c8c8"/>
<rect x="562.53" y="331.3" width="2.6" height="1.1" fill="#444"/>
<rect x="560.92" y="334.3" width="5.82" height="7.4" fill="#cacaca" stroke="#999" stroke-width="0.3"/>
<circle cx="563.83" cy="338" r="1.6" fill="#333"/>
<rect x="567.14" y="313.6" width="5.82" height="5.2" fill="#cfcfcf" stroke="#999" stroke-width="0.3"/>
<circle cx="570.05" cy="316.2" r="1.45" fill="#333"/>
<rect x="567.14" y="318.8" width="5.82" height="3.3" fill="#d8d8d8"/>
<rect x="567.14" y="322.1" width="6.22" height="7.3" fill="#f2f2f2"/>
<rect x="567.74" y="322.3" width="4.62" height="1.8" fill="#666"/>
<rect x="567.94" y="324.1" width="4.22" height="5" fill="#1a1a1a"/>
<rect x="567.14" y="329.4" width="5.82" height="4.9" fill="#c8c8c8"/>
<rect x="568.75" y="331.3" width="2.6" height="1.1" fill="#444"/>
<rect x="567.14" y="334.3" width="5.82" height="7.4" fill="#cacaca" stroke="#999" stroke-width="0.3"/>
<circle cx="570.05" cy="338" r="1.6" fill="#333"/>
<rect x="573.36" y="313.6" width="5.82" height="5.2" fill="#cfcfcf" stroke="#999" stroke-width="0.3"/>
<circle cx="576.27" cy="316.2" r="1.45" fill="#333"/>
<rect x="573.36" y="318.8" width="5.82" height="3.3" fill="#d8d8d8"/>
<rect x="573.36" y="322.1" width="6.22" height="7.3" fill="#f2f2f2"/>
<rect x="573.96" y="322.3" width="4.62" height="1.8" fill="#666"/>
<rect x="574.16" y="324.1" width="4.22" height="5" fill="#1a1a1a"/>
<rect x="573.36" y="329.4" width="5.82" height="4.9" fill="#c8c8c8"/>
<rect x="574.97" y="331.3" width="2.6" height="1.1" fill="#444"/>
<rect x="573.36" y="334.3" width="5.82" height="7.4" fill="#cacaca" stroke="#999" stroke-width="0.3"/>
<circle cx="576.27" cy="338" r="1.6" fill="#333"/>
<rect x="579.58" y="313.6" width="5.82" height="5.2" fill="#cfcfcf" stroke="#999" stroke-width="0.3"/>
<circle cx="582.49" cy="316.2" r="1.45" fill="#333"/>
<rect x="579.58" y="318.8" width="5.82" height="3.3" fill="#d8d8d8"/>
<rect x="579.58" y="322.1" width="6.22" height="7.3" fill="#f2f2f2"/>
<rect x="580.18" y="322.3" width="4.62" height="1.8" fill="#666"/>
<rect x="580.38" y="324.1" width="4.22" height="5" fill="#1a1a1a"/>
<rect x="579.58" y="329.4" width="5.82" height="4.9" fill="#c8c8c8"/>
<rect x="581.19" y="331.3" width="2.6" height="1.1" fill="#444"/>
<rect x="579.58" y="334.3" width="5.82" height="7.4" fill="#cacaca" stroke="#999" stroke-width="0.3"/>
<circle cx="582.49" cy="338" r="1.6" fill="#333"/>
<rect x="585.80" y="313.6" width="5.82" height="5.2" fill="#cfcfcf" stroke="#999" stroke-width="0.3"/>
<circle cx="588.71" cy="316.2" r="1.45" fill="#333"/>
<rect x="585.80" y="318.8" width="5.82" height="3.3" fill="#d8d8d8"/>
<rect x="585.80" y="322.1" width="6.22" height="7.3" fill="#f2f2f2"/>
<rect x="586.40" y="322.3" width="4.62" height="1.8" fill="#666"/>
<rect x="586.60" y="324.1" width="4.22" height="5" fill="#1a1a1a"/>
<rect x="585.80" y="329.4" width="5.82" height="4.9" fill="#c8c8c8"/>
<rect x="587.41" y="331.3" width="2.6" height="1.1" fill="#444"/>
<rect x="585.80" y="334.3" width="5.82" height="7.4" fill="#cacaca" stroke="#999" stroke-width="0.3"/>
<circle cx="588.71" cy="338" r="1.6" fill="#333"/>
<rect x="592.02" y="313.6" width="5.82" height="5.2" fill="#cfcfcf" stroke="#999" stroke-width="0.3"/>
<circle cx="594.93" cy="316.2" r="1.45" fill="#333"/>
<rect x="592.02" y="318.8" width="5.82" height="3.3" fill="#d8d8d8"/>
<rect x="592.02" y="322.1" width="6.22" height="7.3" fill="#f2f2f2"/>
<rect x="592.62" y="322.3" width="4.62" height="1.8" fill="#666"/>
<rect x="592.82" y="324.1" width="4.22" height="5" fill="#1a1a1a"/>
<rect x="592.02" y="329.4" width="5.82" height="4.9" fill="#c8c8c8"/>
<rect x="593.63" y="331.3" width="2.6" height="1.1" fill="#444"/>
<rect x="592.02" y="334.3" width="5.82" height="7.4" fill="#cacaca" stroke="#999" stroke-width="0.3"/>
<circle cx="594.93" cy="338" r="1.6" fill="#333"/>
<rect x="598.24" y="313.6" width="5.82" height="5.2" fill="#cfcfcf" stroke="#999" stroke-width="0.3"/>
<circle cx="601.15" cy="316.2" r="1.45" fill="#333"/>
<rect x="598.24" y="318.8" width="5.82" height="3.3" fill="#d8d8d8"/>
<rect x="598.24" y="322.1" width="6.22" height="7.3" fill="#f2f2f2"/>
<rect x="598.84" y="322.3" width="4.62" height="1.8" fill="#666"/>
<rect x="599.04" y="324.1" width="4.22" height="5" fill="#1a1a1a"/>
<rect x="598.24" y="329.4" width="5.82" height="4.9" fill="#c8c8c8"/>
<rect x="599.85" y="331.3" width="2.6" height="1.1" fill="#444"/>
<rect x="598.24" y="334.3" width="5.82" height="7.4" fill="#cacaca" stroke="#999" stroke-width="0.3"/>
<circle cx="601.15" cy="338" r="1.6" fill="#333"/>
<path d="M577.6,370.3 L581.7,355.6 L577.5,341 L576.3,331 Q576.5,328 579,328.3 Q581.5,329 582.5,332 L586,333 L593.9,349 L602,357 L611,362 L611,370.3 Z" fill="#fff" stroke="#222" stroke-width="0.7"/>
<path d="M578.4,331 Q577,343 580.8,354" fill="none" stroke="#222" stroke-width="0.7"/>
<path d="M573,334 Q574,330 577,329" fill="none" stroke="#222" stroke-width="0.6"/>
<text x="0" y="0" transform="translate(549.8,362.9) scale(0.79,1)" font-size="12.4" font-weight="bold" fill="#222" stroke="#222" stroke-width="0.6">ON</text>
<circle cx="467.1" cy="306" r="8.5" fill="none" stroke="#333" stroke-width="0.75"/><text x="467.1" y="310.65" text-anchor="middle" font-size="13" fill="#1e1e1e" stroke="#1e1e1e" stroke-width="0.45">11</text>
<rect x="455.5" y="407" width="8.899999999999977" height="18.5" fill="#6e6e6e"/>
<text x="459.95" y="419.5" text-anchor="middle" style="font-family:Liberation Serif,serif" font-weight="bold" font-size="8.5" fill="#fff">1</text>
<rect x="464.4" y="399.5" width="35.0" height="33.5" rx="1.5" fill="#fff" stroke="#ccc" stroke-width="0.7"/>
<rect x="505.8" y="407" width="8.400000000000034" height="18.5" fill="#6e6e6e"/>
<text x="510.00" y="419.5" text-anchor="middle" style="font-family:Liberation Serif,serif" font-weight="bold" font-size="8.5" fill="#fff">2</text>
<rect x="514.2" y="399.5" width="34.69999999999993" height="33.5" rx="1.5" fill="#fff" stroke="#ccc" stroke-width="0.7"/>
<rect x="552.9" y="407" width="8.800000000000068" height="18.5" fill="#6e6e6e"/>
<text x="557.30" y="419.5" text-anchor="middle" style="font-family:Liberation Serif,serif" font-weight="bold" font-size="8.5" fill="#fff">3</text>
<rect x="561.7" y="399.5" width="34.09999999999991" height="33.5" rx="1.5" fill="#fff" stroke="#ccc" stroke-width="0.7"/>
<rect x="600.8" y="407" width="8.400000000000091" height="18.5" fill="#6e6e6e"/>
<text x="605.00" y="419.5" text-anchor="middle" style="font-family:Liberation Serif,serif" font-weight="bold" font-size="8.5" fill="#fff">4</text>
<rect x="609.2" y="399.5" width="34.299999999999955" height="33.5" rx="1.5" fill="#fff" stroke="#ccc" stroke-width="0.7"/>
<rect x="647.6" y="407" width="8.799999999999955" height="18.5" fill="#6e6e6e"/>
<text x="652.00" y="419.5" text-anchor="middle" style="font-family:Liberation Serif,serif" font-weight="bold" font-size="8.5" fill="#fff">5</text>
<rect x="656.4" y="399.5" width="34.0" height="33.5" rx="1.5" fill="#fff" stroke="#ccc" stroke-width="0.7"/>
<path d="M478.4,410 A6.6,6.6 0 1 0 478.4,423" fill="none" stroke="#111" stroke-width="2"/>
<path d="M491.5,410 A6.6,6.6 0 1 0 491.5,423 M484,416.5 L490.4,416.5" fill="none" stroke="#111" stroke-width="2"/>
<path d="M526.5,404.5 Q531.5,403 537,404.5 L537,407 L526.5,407 Z" fill="none" stroke="#222" stroke-width="1"/>
<path d="M525.5,407.2 L538,407.2 M526.3,408 L527.8,421.2 L535,421.2 M537.3,408 L536.6,418" fill="none" stroke="#222" stroke-width="1"/>
<path d="M521.5,402.5 L541.6,423.5 M541.6,402.5 L521.5,423.5" stroke="#333" stroke-width="0.8"/>
<circle cx="535.3" cy="420" r="1.8" fill="#555" stroke="#222" stroke-width="0.6"/>
<rect x="523.3" y="426.3" width="17" height="2.2" fill="#111"/>
<rect x="564.5" y="405.5" width="3.2" height="5" fill="#111"/>
<path d="M565.3,403.5 L565.3,405.5 M567,403.5 L567,405.5" stroke="#111" stroke-width="0.6"/>
<path d="M566.1,410.5 Q565,419 571,421.5 L593.5,421.5" fill="none" stroke="#111" stroke-width="1.2"/>
<path d="M571.1,424.6 L579.6,410.8 L588,424.6 Z" fill="none" stroke="#111" stroke-width="0.9"/>
<path d="M616.6,409.8 L636.6,409.8" stroke="#111" stroke-width="0.9"/>
<path d="M623.5,406.3 L630,409.8 L623.5,413.3 Z" fill="#fff" stroke="#111" stroke-width="0.9"/>
<path d="M630,406 L630,413.6" stroke="#111" stroke-width="1"/>
<path d="M628,405.5 L630,402.5 M631,406 L633,403" stroke="#111" stroke-width="0.6"/>
<rect x="618" y="415.1" width="16.5" height="9.5" fill="#fff" stroke="#111" stroke-width="0.9"/>
<text x="626.3" y="422.7" text-anchor="middle" font-size="7" fill="#111">LED</text>
<path d="M675.7,404.5 L662,414 L665.1,414 L665.1,427.7 L675.7,427.7" fill="none" stroke="#333" stroke-width="0.7"/>
<rect x="676" y="405.50" width="1.50" height="2.1" rx="0.8" fill="#111"/>
<rect x="676" y="408.30" width="2.45" height="2.1" rx="0.8" fill="#111"/>
<rect x="676" y="411.10" width="3.40" height="2.1" rx="0.8" fill="#111"/>
<rect x="676" y="413.90" width="4.35" height="2.1" rx="0.8" fill="#111"/>
<rect x="676" y="416.70" width="5.30" height="2.1" rx="0.8" fill="#111"/>
<rect x="676" y="419.50" width="6.25" height="2.1" rx="0.8" fill="#111"/>
<rect x="676" y="422.30" width="7.20" height="2.1" rx="0.8" fill="#111"/>
<rect x="676" y="425.10" width="8.15" height="2.1" rx="0.8" fill="#111"/>
</svg></body></html>
